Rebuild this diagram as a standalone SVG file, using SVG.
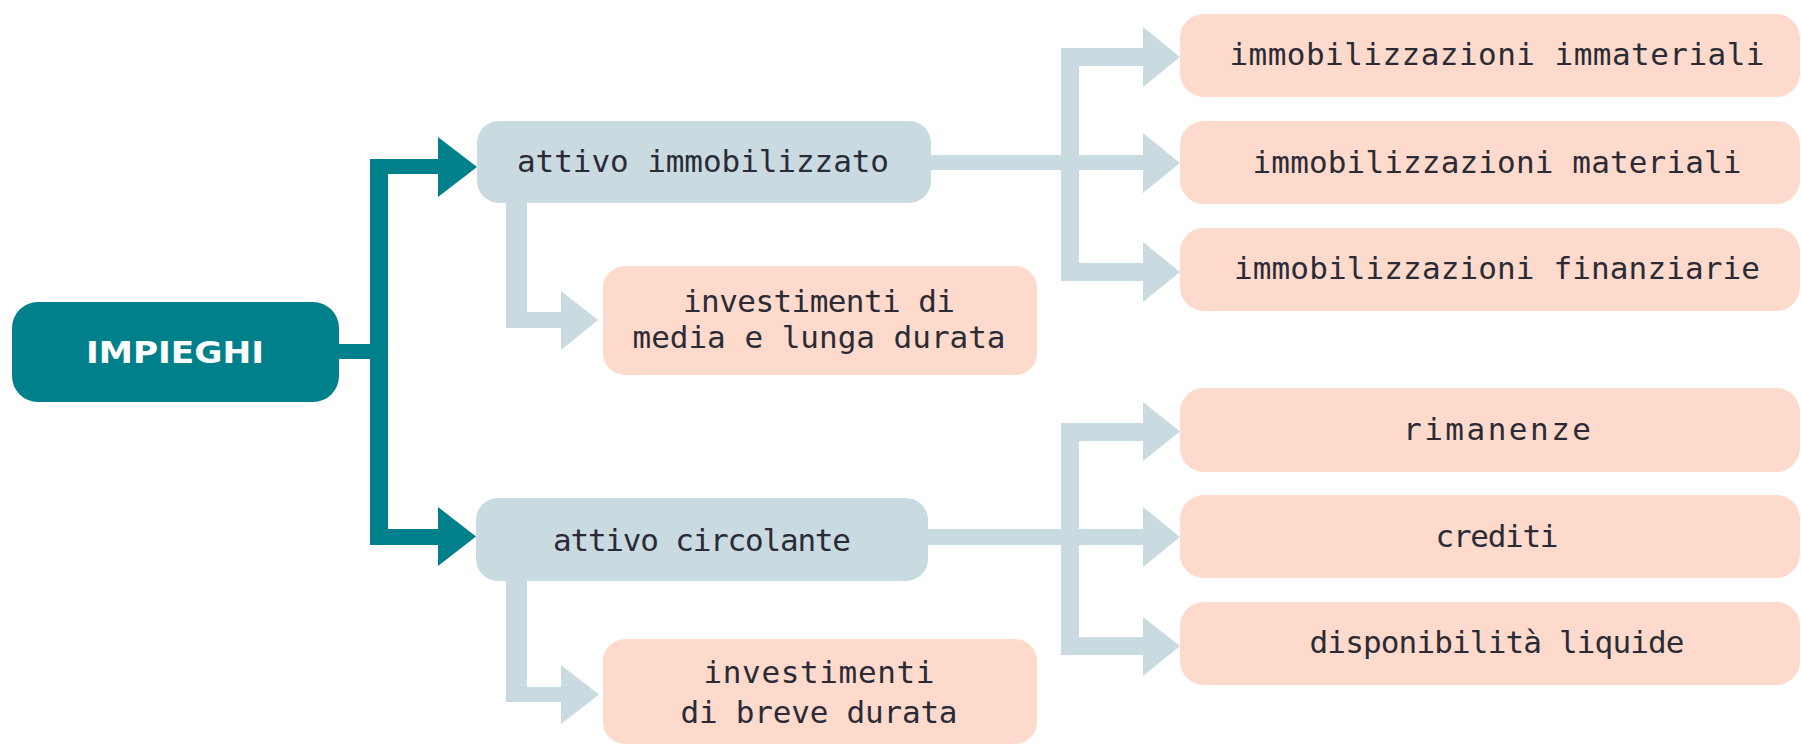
<svg xmlns="http://www.w3.org/2000/svg" width="1801" height="745" viewBox="0 0 1801 745">
<style>
.teal{fill:#00808a}
.gray{fill:#c9dae1}
.peach{fill:#fddacb}
.lbl{font-family:"DejaVu Sans Mono","Liberation Mono",monospace;font-size:31px;fill:#2b2b36;text-anchor:middle}
.main{font-family:"DejaVu Sans","Noto Sans",sans-serif;font-size:30px;font-weight:bold;fill:#ffffff;text-anchor:middle}
</style>
<rect width="1801" height="745" fill="#ffffff"/>
<g id="connectors">
  <path class="teal" d="M339,344H370V159H438V137L477,167L438,197V174H388V529H438V507L476,536.5L438,566V545H370V359H339Z"/>
  <path class="gray" d="M506,203H527V312H561V291L598,320L561,350V328H506Z"/>
  <path class="gray" d="M931,155H1061V48H1143V27L1180,57L1143,87V66H1079V155H1143V133L1180,163L1143,193V170H1079V263H1143V242L1180,272L1143,302V281H1061V170H931Z"/>
  <path class="gray" d="M506,581H527V687H561V665L599,694.5L561,724V702H506Z"/>
  <path class="gray" d="M928,529H1061V423H1143V402L1180,431.5L1143,461V441H1079V529H1143V507L1180,537L1143,567V545H1079V637H1143V617L1180,646L1143,676V655H1061V545H928Z"/>
</g>
<g id="impieghi">
  <rect class="teal" x="12" y="302" width="327" height="100" rx="26"/>
  <text class="main" x="175" y="363" textLength="178" lengthAdjust="spacingAndGlyphs">IMPIEGHI</text>
</g>
<g id="attivo-immobilizzato">
  <rect class="gray" x="477" y="121" width="454" height="82" rx="22"/>
  <text class="lbl" x="703" y="172" textLength="372" lengthAdjust="spacing">attivo immobilizzato</text>
</g>
<g id="investimenti-media-lunga">
  <rect class="peach" x="603" y="266" width="434" height="109" rx="22"/>
  <text class="lbl" x="819" y="312" textLength="272" lengthAdjust="spacing">investimenti di</text>
  <text class="lbl" x="819" y="348" textLength="373" lengthAdjust="spacing">media e lunga durata</text>
</g>
<g id="attivo-circolante">
  <rect class="gray" x="476" y="498" width="452" height="83" rx="22"/>
  <text class="lbl" x="702" y="551" textLength="298" lengthAdjust="spacing">attivo circolante</text>
</g>
<g id="investimenti-breve">
  <rect class="peach" x="603" y="639" width="434" height="105" rx="22"/>
  <text class="lbl" x="819" y="683" textLength="231" lengthAdjust="spacing">investimenti</text>
  <text class="lbl" x="819" y="723" textLength="277" lengthAdjust="spacing">di breve durata</text>
</g>
<g id="immobilizzazioni-immateriali">
  <rect class="peach" x="1180" y="14" width="620" height="83" rx="24"/>
  <text class="lbl" x="1497" y="65" textLength="535" lengthAdjust="spacing">immobilizzazioni immateriali</text>
</g>
<g id="immobilizzazioni-materiali">
  <rect class="peach" x="1180" y="121" width="620" height="83" rx="24"/>
  <text class="lbl" x="1497" y="173" textLength="489" lengthAdjust="spacing">immobilizzazioni materiali</text>
</g>
<g id="immobilizzazioni-finanziarie">
  <rect class="peach" x="1180" y="228" width="620" height="83" rx="24"/>
  <text class="lbl" x="1497" y="279" textLength="526" lengthAdjust="spacing">immobilizzazioni finanziarie</text>
</g>
<g id="rimanenze">
  <rect class="peach" x="1180" y="388" width="620" height="84" rx="24"/>
  <text class="lbl" x="1497" y="440" textLength="188" lengthAdjust="spacing">rimanenze</text>
</g>
<g id="crediti">
  <rect class="peach" x="1180" y="495" width="620" height="83" rx="24"/>
  <text class="lbl" x="1497" y="547" textLength="123" lengthAdjust="spacing">crediti</text>
</g>
<g id="disponibilita-liquide">
  <rect class="peach" x="1180" y="602" width="620" height="83" rx="24"/>
  <text class="lbl" x="1497" y="653" textLength="375" lengthAdjust="spacing">disponibilità liquide</text>
</g>
</svg>
